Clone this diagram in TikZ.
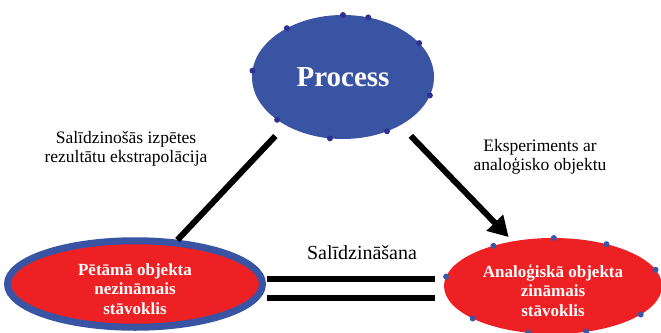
\documentclass[tikz,border=0pt]{standalone}
\usepackage{xcolor}
\usepackage{tikz}
\usepackage{fontspec}
\setmainfont{Liberation Serif}
\usetikzlibrary{shapes.geometric, arrows.meta, positioning, calc}
\definecolor{procblue}{RGB}{58,84,164}
\definecolor{dotblue}{RGB}{46,49,146}
\definecolor{pointblue}{RGB}{59,87,168}
\definecolor{statered}{RGB}{237,32,36}

\begin{document}
\begin{tikzpicture}[x=1pt, y=-1pt,
    state/.style={ellipse, fill=statered, text=white, font=\bfseries\fontsize{17}{19.5}\selectfont, align=center, inner sep=0pt, outer sep=0pt},
    dot/.style={circle, fill=#1, inner sep=0pt, minimum size=6pt},
    link/.style={line width=6pt, black},
    caption/.style={align=center, font=\fontsize{17.5}{19}\selectfont}
]
\useasboundingbox (0,0) rectangle (661,332);

\node[ellipse, fill=procblue, text=white, font=\bfseries\fontsize{29}{31}\selectfont, minimum width=182pt, minimum height=124pt, inner sep=0pt, outer sep=0pt] (process) at (343,77) {Process};
\node[state, draw=procblue, line width=7pt, minimum width=255pt, minimum height=85pt] (unknown) at (135,284) {\rule{0pt}{22pt}Pētāmā objekta\\nezināmais\\stāvoklis};
\node[state, minimum width=218pt, minimum height=96pt] (known) at (553,286) {\rule{0pt}{22pt}Analoģiskā objekta\\zināmais\\stāvoklis};

% points on the borders
\foreach \a in {90,67,139,24,176,348,213,309,258}
    \node[dot=dotblue] (pdot\a) at (process.\a) {};
\foreach \a in {146,89,38,9,175,202,342,242,306}
    \node[dot=pointblue] (kdot\a) at (known.\a) {};

\node[caption] (extrap) at (126,149) {Salīdzinošās izpētes\\rezultātu ekstrapolācija};
\node[caption] (exper) at (540,157) {Eksperiments ar\\analoģisko objektu};
\node[font=\fontsize{20}{22}\selectfont] (comp) at (362,253) {Salīdzināšana};

\draw[link, shorten <=15pt, shorten >=4pt] (process.220) -- (unknown.46);
\draw[link, -{Triangle[length=20pt,width=22pt]}, shorten <=15pt, shorten >=6pt] (process.320) -- (known.132);
\draw[link, shorten <=4.5pt, shorten >=9pt] ($(unknown.east)+(0,-5)$) -- ($(unknown.east -| known.west)+(0,-5)$);
\draw[link, shorten <=4.5pt, shorten >=9pt] ($(unknown.east)+(0,14)$) -- ($(unknown.east -| known.west)+(0,14)$);
\end{tikzpicture}
\end{document}
